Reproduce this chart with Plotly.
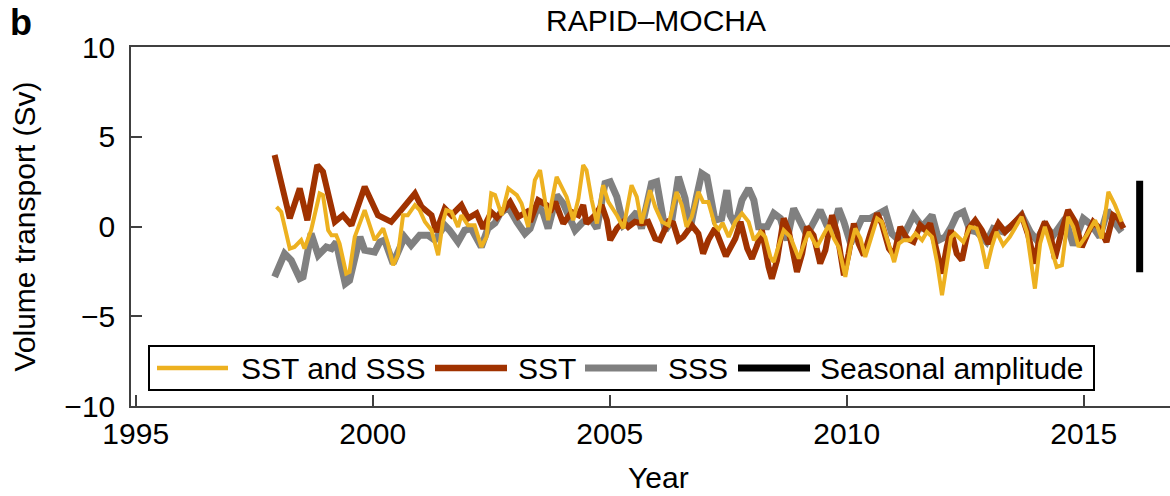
import plotly.graph_objects as go

# ---- data (year, Sv) ----
sst_sss_year = [1997.97, 1998.07, 1998.25, 1998.35, 1998.49, 1998.56, 1998.70, 1998.88, 1998.95, 1999.06,
                1999.13, 1999.23, 1999.30, 1999.44, 1999.51, 1999.62, 1999.83, 2000.04, 2000.22, 2000.32,
                2000.43, 2000.53, 2000.64, 2000.74, 2000.89, 2000.99, 2001.10, 2001.24, 2001.38, 2001.48,
                2001.55, 2001.66, 2001.80, 2001.87, 2002.01, 2002.15, 2002.29, 2002.40, 2002.50, 2002.58,
                2002.72, 2002.86, 2003.04, 2003.14, 2003.28, 2003.42, 2003.53, 2003.63, 2003.70, 2003.88,
                2003.99, 2004.09, 2004.23, 2004.34, 2004.44, 2004.51, 2004.62, 2004.73, 2004.86, 2004.97,
                2005.15, 2005.29, 2005.46, 2005.57, 2005.67, 2005.85, 2005.96, 2006.10, 2006.24, 2006.41,
                2006.52, 2006.62, 2006.73, 2006.87, 2006.97, 2007.08, 2007.22, 2007.30, 2007.38, 2007.51,
                2007.65, 2007.79, 2007.93, 2008.04, 2008.18, 2008.28, 2008.39, 2008.46, 2008.60, 2008.67,
                2008.81, 2008.99, 2009.09, 2009.20, 2009.37, 2009.48, 2009.62, 2009.73, 2009.83, 2009.97,
                2010.08, 2010.18, 2010.29, 2010.39, 2010.50, 2010.64, 2010.74, 2010.89, 2011.00, 2011.10,
                2011.20, 2011.34, 2011.45, 2011.59, 2011.69, 2011.80, 2011.91, 2012.01, 2012.11, 2012.20,
                2012.28, 2012.46, 2012.60, 2012.74, 2012.84, 2012.95, 2013.06, 2013.16, 2013.30, 2013.44,
                2013.69, 2013.80, 2013.97, 2014.08, 2014.18, 2014.29, 2014.43, 2014.54, 2014.67, 2014.78,
                2014.89, 2015.06, 2015.24, 2015.38, 2015.52, 2015.66, 2015.80]
sst_sss_sv = [1.09, 0.81, -1.23, -1.14, -0.76, -1.23, -0.21, 1.84, 1.75, -0.21,
              -0.49, -0.49, -0.95, -2.62, -2.53, -0.58, 0.91, -0.76, -0.11, -0.95,
              -2.16, -1.60, 0.63, 0.63, 1.19, 0.91, 0.26, -0.21, -1.60, 0.26,
              0.91, 0.81, -0.02, 0.63, 0.07, 0.07, -1.14, -0.58, 1.84, 1.75,
              0.63, 2.12, 1.75, 1.28, -0.02, 2.58, 3.14, 1.28, 0.35, 2.77,
              2.21, 1.65, 0.35, 1.56, 3.42, 3.14, 1.47, 0.17, 2.30, 1.37,
              0.63, -0.11, 2.30, 1.65, 0.17, 2.02, 1.09, 0.26, 0.07, 1.93,
              1.19, -0.02, 0.54, 1.93, 1.37, 1.37, 0.07, -0.15, 0.20, -0.58,
              0.26, 0.73, 0.26, -0.76, -0.30, -0.58, -1.70, -1.98, -0.76, -0.21,
              -0.58, -1.79, -1.04, -0.30, -1.14, -0.58, 0.07, -0.67, -1.14, -2.81,
              -1.14, -0.11, -0.67, -1.70, -0.67, 0.45, 0.26, -1.04, -1.98, -0.95,
              -0.76, -0.76, -0.39, -0.76, -0.30, -0.58, -2.06, -3.83, -2.25, -0.60,
              -0.39, -0.86, -0.02, -0.11, -0.95, -2.34, -1.14, -0.30, -1.04, -0.58,
              0.54, -0.30, -3.46, -0.95, -0.02, -1.04, -2.25, -2.16, 0.54, -0.02,
              -1.14, -0.49, 0.35, -0.67, 1.93, 1.19, 0.26]

sst_year = [1997.93, 1998.25, 1998.46, 1998.62, 1998.83, 1998.95, 1999.20, 1999.37, 1999.55, 1999.83,
            2000.11, 2000.39, 2000.60, 2000.89, 2001.03, 2001.24, 2001.34, 2001.52, 2001.66, 2001.87,
            2002.01, 2002.19, 2002.33, 2002.50, 2002.62, 2002.72, 2002.90, 2003.07, 2003.25, 2003.32,
            2003.49, 2003.67, 2003.74, 2003.85, 2004.02, 2004.20, 2004.34, 2004.44, 2004.51, 2004.69,
            2004.83, 2004.94, 2005.01, 2005.15, 2005.29, 2005.39, 2005.53, 2005.67, 2005.81, 2005.96,
            2006.06, 2006.24, 2006.34, 2006.45, 2006.55, 2006.73, 2006.87, 2006.97, 2007.08, 2007.22,
            2007.33, 2007.45, 2007.65, 2007.76, 2007.90, 2008.00, 2008.11, 2008.21, 2008.35, 2008.42,
            2008.53, 2008.67, 2008.78, 2008.95, 2009.06, 2009.16, 2009.30, 2009.44, 2009.55, 2009.69,
            2009.80, 2009.94, 2010.04, 2010.15, 2010.25, 2010.36, 2010.50, 2010.64, 2010.74, 2010.89,
            2011.00, 2011.13, 2011.27, 2011.41, 2011.55, 2011.66, 2011.76, 2011.87, 2012.01, 2012.11,
            2012.20, 2012.32, 2012.43, 2012.57, 2012.71, 2012.85, 2012.99, 2013.20, 2013.34, 2013.48,
            2013.69, 2013.83, 2013.97, 2014.08, 2014.18, 2014.29, 2014.39, 2014.54, 2014.67, 2014.82,
            2014.96, 2015.10, 2015.20, 2015.34, 2015.48, 2015.62, 2015.73, 2015.84]
sst_sv = [3.98, 0.45, 2.12, 0.35, 3.42, 3.05, 0.26, 0.63, 0.07, 2.21,
          0.63, 0.26, 0.91, 1.84, 1.09, 0.63, -0.30, 1.00, 0.63, 1.19,
          0.45, 0.73, -0.11, 0.80, 0.50, 0.81, 1.37, 0.54, 0.81, 0.26,
          1.47, 1.19, 0.81, 1.37, 0.17, 0.81, 0.63, 1.19, 0.17, 0.63,
          1.19, 0.35, -0.76, -0.11, 0.26, -0.02, 0.26, 0.17, 0.26, -0.67,
          -0.76, 0.26, 0.17, -0.76, -0.58, 0.07, -0.39, -1.51, -0.76, -0.11,
          -0.86, -1.65, -0.67, 0.26, -1.23, -1.79, -1.04, -0.21, -2.25, -2.90,
          -1.88, 0.45, -0.30, -2.53, -1.51, -0.02, -0.49, -2.06, -1.32, 0.63,
          -0.39, -2.72, -1.51, 0.17, -0.95, -1.60, -0.39, 0.73, 0.17, -1.23,
          -1.60, -0.02, -0.67, -0.86, 0.07, -0.21, 0.17, -1.14, -2.62, -1.14,
          -0.21, -1.51, -1.88, -0.11, 0.35, -0.21, -0.95, 0.17, -0.30, 0.07,
          0.63, -0.49, -2.06, -0.39, 0.26, -0.30, -1.79, -0.21, 0.91, 0.26,
          -1.14, -0.30, 0.26, -0.11, -0.86, 0.63, 0.45, -0.11]

sss_year = [1997.93, 1998.14, 1998.28, 1998.46, 1998.53, 1998.70, 1998.85, 1999.02, 1999.13, 1999.23,
            1999.34, 1999.42, 1999.51, 1999.65, 1999.73, 1999.83, 2000.04, 2000.15, 2000.25, 2000.43,
            2000.57, 2000.67, 2000.81, 2000.99, 2001.17, 2001.31, 2001.52, 2001.62, 2001.80, 2001.94,
            2002.08, 2002.29, 2002.43, 2002.58, 2002.69, 2002.86, 2003.04, 2003.21, 2003.32, 2003.49,
            2003.60, 2003.70, 2003.88, 2004.02, 2004.27, 2004.44, 2004.62, 2004.73, 2004.90, 2005.01,
            2005.15, 2005.29, 2005.39, 2005.57, 2005.67, 2005.88, 2005.99, 2006.17, 2006.31, 2006.45,
            2006.59, 2006.69, 2006.83, 2006.94, 2007.05, 2007.22, 2007.36, 2007.47, 2007.54, 2007.65,
            2007.79, 2007.93, 2008.04, 2008.14, 2008.32, 2008.46, 2008.60, 2008.74, 2008.88, 2008.99,
            2009.16, 2009.27, 2009.44, 2009.58, 2009.69, 2009.83, 2009.94, 2010.08, 2010.22, 2010.32,
            2010.50, 2010.64, 2010.81, 2010.95, 2011.10, 2011.24, 2011.41, 2011.59, 2011.80, 2011.94,
            2012.08, 2012.20, 2012.32, 2012.46, 2012.60, 2012.74, 2012.95, 2013.09, 2013.30, 2013.51,
            2013.69, 2013.87, 2014.01, 2014.18, 2014.36, 2014.61, 2014.78, 2014.99, 2015.17, 2015.34,
            2015.50, 2015.66, 2015.80]
sss_sv = [-2.81, -1.51, -1.88, -2.90, -2.81, -0.39, -1.60, -1.14, -1.23, -0.86,
          -2.25, -3.18, -3.00, -1.32, -0.58, -1.32, -1.42, -0.86, -0.76, -2.06,
          -1.04, -0.58, -1.04, -0.49, -0.49, -0.76, 0.07, -0.21, -0.86, -0.21,
          -0.11, -1.14, -0.11, 0.20, 0.73, 1.09, 0.26, -0.39, -0.11, 1.19,
          0.73, -0.11, 1.75, 1.28, -0.21, 0.26, 0.35, -0.11, 2.40, 2.49,
          1.65, 0.07, 0.26, 0.81, -0.11, 2.40, 2.49, -0.21, 0.35, 2.77,
          1.56, -0.21, 1.65, 2.96, 2.77, 0.35, 0.45, 2.02, 0.63, 0.07,
          1.47, 2.12, 1.47, -0.02, -0.02, 0.73, 0.45, -0.76, 1.00, 0.45,
          -0.49, 0.07, 0.91, 0.07, -0.39, 1.00, 0.26, -0.95, -0.21, 0.45,
          0.45, 0.63, 0.91, -0.39, -0.76, -0.30, 0.63, -0.02, 0.63, -0.76,
          -0.58, -0.05, 0.63, 0.81, -0.21, -0.30, -0.86, -0.11, -0.30, 0.07,
          0.63, -0.30, -0.76, 0.05, -0.49, 0.45, -1.04, 0.45, 0.07, -0.58,
          0.90, 0.20, -0.30]

seasonal_year = 2016.18
seasonal_amplitude = 2.55

series_names = ["SST and SSS", "SST", "SSS", "Seasonal amplitude"]
x_ticks = [1995, 2000, 2005, 2010, 2015]
y_ticks = [-10, -5, 0, 5, 10]

ORANGE = "#EDB120"
BROWN = "#A03200"
GRAY = "#808080"
BLACK = "#000000"
FONT = "Liberation Sans, Arial, Helvetica, sans-serif"

fig = go.Figure()
fig.add_trace(go.Scatter(x=sss_year, y=sss_sv, mode="lines", name=series_names[2],
                         line=dict(color=GRAY, width=7), showlegend=False))
fig.add_trace(go.Scatter(x=sst_year, y=sst_sv, mode="lines", name=series_names[1],
                         line=dict(color=BROWN, width=6), showlegend=False))
fig.add_trace(go.Scatter(x=sst_sss_year, y=sst_sss_sv, mode="lines", name=series_names[0],
                         line=dict(color=ORANGE, width=4), showlegend=False))
fig.add_trace(go.Scatter(x=[seasonal_year, seasonal_year], y=[-seasonal_amplitude, seasonal_amplitude],
                         mode="lines", name=series_names[3],
                         line=dict(color=BLACK, width=7), showlegend=False))

W, H = 1170, 496
L, R, T, B = 131, 0, 47, 90
PW, PH = W - L - R, H - T - B


def px_to_paper_x(px):
    return (px - L) / PW


def px_to_paper_y(py):
    return (H - B - py) / PH


shapes = []
annotations = []
# custom legend box (long line samples as in the reference)
shapes.append(dict(type="rect", xref="paper", yref="paper",
                   x0=px_to_paper_x(149), x1=px_to_paper_x(1094),
                   y0=px_to_paper_y(390), y1=px_to_paper_y(346),
                   line=dict(color=BLACK, width=2), fillcolor="white", layer="above"))
legend_items = [
    (series_names[0], ORANGE, 4.5, 157, 228, 240),
    (series_names[1], BROWN, 6.5, 435, 507, 517),
    (series_names[2], GRAY, 7, 585, 657, 667),
    (series_names[3], BLACK, 7, 738, 810, 819),
]
ly = px_to_paper_y(368)
for name, col, w, x0, x1, tx in legend_items:
    shapes.append(dict(type="line", xref="paper", yref="paper",
                       x0=px_to_paper_x(x0), x1=px_to_paper_x(x1), y0=ly, y1=ly,
                       line=dict(color=col, width=w), layer="above"))
    annotations.append(dict(text=name, xref="paper", yref="paper",
                            x=px_to_paper_x(tx), y=ly, xanchor="left", yanchor="middle",
                            showarrow=False, borderpad=0, font=dict(size=30, color=BLACK, family=FONT)))

annotations.append(dict(text="RAPID–MOCHA", xref="paper", yref="paper",
                        x=px_to_paper_x(656), y=px_to_paper_y(21), xanchor="center", yanchor="middle",
                        showarrow=False, borderpad=0, font=dict(size=30, color=BLACK, family=FONT)))
annotations.append(dict(text="<b>b</b>", xref="paper", yref="paper",
                        x=px_to_paper_x(9), y=px_to_paper_y(23), xanchor="left", yanchor="middle",
                        showarrow=False, borderpad=0, font=dict(size=36, color=BLACK, family=FONT)))
annotations.append(dict(text="Year", xref="paper", yref="paper",
                        x=px_to_paper_x(658), y=px_to_paper_y(477), xanchor="center", yanchor="middle",
                        showarrow=False, borderpad=0, font=dict(size=30, color=BLACK, family=FONT)))

fig.update_layout(
    width=W, height=H,
    margin=dict(l=L, r=R, t=T, b=B, pad=0),
    paper_bgcolor="white", plot_bgcolor="white",
    font=dict(family=FONT, size=30, color=BLACK),
    shapes=shapes, annotations=annotations,
    showlegend=False,
    xaxis=dict(range=[1994.90, 2016.82], tickvals=x_ticks, ticktext=[str(v) for v in x_ticks],
               ticks="inside", ticklen=11, tickwidth=1.5, tickcolor="#404040",
               showline=True, linecolor="#404040", linewidth=1.5, mirror=True,
               showgrid=False, zeroline=False, ticklabelstandoff=0,
               tickfont=dict(size=30, color=BLACK, family=FONT)),
    yaxis=dict(range=[-10, 10], tickvals=y_ticks,
               ticks="inside", ticklen=11, tickwidth=1.5, tickcolor="#404040",
               showline=True, linecolor="#404040", linewidth=1.5, mirror=False,
               showgrid=False, zeroline=False, ticklabelstandoff=8,
               tickfont=dict(size=30, color=BLACK, family=FONT),
               title=dict(text="Volume transport (Sv)", standoff=20,
                          font=dict(size=30, color=BLACK, family=FONT))),
)

fig.write_html("out.html")
